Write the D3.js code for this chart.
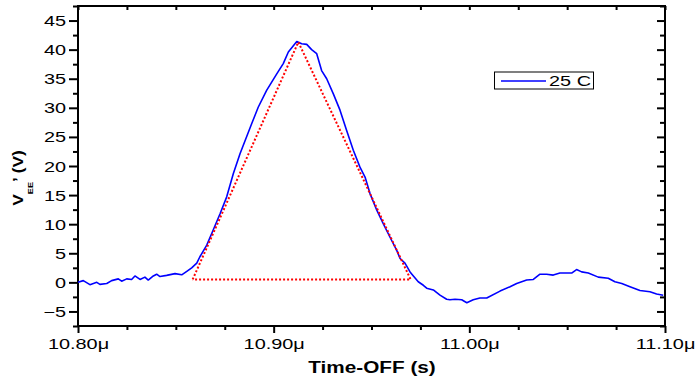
<!DOCTYPE html>
<html><head><meta charset="utf-8">
<script src="https://cdn.jsdelivr.net/npm/d3@7"></script>
<style>
body{margin:0;background:#fff;}
svg{display:block;}
text{font-family:"Liberation Sans",Arial,sans-serif;}
</style></head>
<body>
<script>
// ---- data ----
const timeUs = [10.800,10.8027,10.8061,10.8096,10.8112,10.8147,10.8172,10.8206,10.8223,10.8249,10.8274,10.8291,10.8317,10.8342,10.8359,10.8385,10.8402,10.8419,10.8453,10.8496,10.8530,10.8556,10.8581,10.8607,10.8623,10.8658,10.8691,10.8726,10.8760,10.8794,10.8828,10.8888,10.8921,10.8964,10.9015,10.9049,10.9075,10.9118,10.9143,10.9169,10.9194,10.9220,10.9245,10.9271,10.9305,10.9339,10.9373,10.9407,10.9441,10.9467,10.9492,10.9527,10.9560,10.9594,10.9629,10.9646,10.9671,10.9697,10.9714,10.9739,10.9765,10.9782,10.9816,10.9850,10.9884,10.9901,10.9927,10.9961,10.9987,11.0020,11.0054,11.0089,11.0157,11.0208,11.0242,11.0293,11.0327,11.0361,11.0395,11.0429,11.0463,11.0523,11.0548,11.0574,11.0608,11.0659,11.0710,11.0744,11.0779,11.0821,11.0872,11.0923,11.0957,11.0991];
const vee25C = [0.0,0.3,-0.4,0.0,-0.35,-0.2,0.3,0.6,0.2,0.6,0.5,1.1,0.5,0.9,0.4,1.1,1.4,1.0,1.2,1.5,1.3,1.9,2.5,3.3,4.4,6.4,9.0,11.8,14.7,18.7,22.1,27.3,30.1,33.0,35.8,37.6,39.6,41.4,41.0,40.9,40.0,39.3,36.4,35.0,32.4,29.6,26.1,22.7,19.8,18.1,15.3,12.4,10.1,7.8,5.5,4.1,3.3,1.8,1.1,0.1,-0.5,-1.0,-1.3,-2.2,-2.9,-3.0,-2.9,-3.0,-3.5,-3.0,-2.7,-2.7,-1.5,-0.75,-0.2,0.4,0.5,1.4,1.4,1.25,1.6,1.6,2.2,1.8,1.6,0.9,0.7,0.1,-0.2,-0.75,-1.4,-1.6,-2.0,-2.2];
const triangleX = [10.8586, 10.9126, 10.9700, 10.8586];
const triangleY = [0.5, 41.3, 0.5, 0.5];
const xMajorTicks = [10.80, 10.90, 11.00, 11.10];
const xMinorTicks = [10.825,10.85,10.875,10.925,10.95,10.975,11.025,11.05,11.075];
const yMajorTicks = [-5,0,5,10,15,20,25,30,35,40,45];
const yMinorTicks = [-7.5,-2.5,2.5,7.5,12.5,17.5,22.5,27.5,32.5,37.5,42.5,47.5];
const legendLabel = "25 C";
const xTitle = "Time-OFF (s)";

// ---- layout ----
const W = 697, H = 378;
const L = 78, R = 665, T = 6, B = 326;
const SX = 1.42; // horizontal text stretch
const svg = d3.select("body").append("svg").attr("width", W).attr("height", H);

const x = d3.scaleLinear().domain([10.80, 11.10]).range([L, R]);
const y = d3.scaleLinear().domain([-7.5, 47.5]).range([B, T]);

function styleAxis(g, w){
  g.select(".domain").remove();
  g.selectAll(".tick line").attr("stroke","#000").attr("stroke-width", w);
}
// left
const gl = svg.append("g").attr("transform",`translate(${L},0)`)
  .call(d3.axisLeft(y).tickValues(yMajorTicks).tickSize(9).tickPadding(3).tickFormat(d3.format("d")));
styleAxis(gl, 2);
gl.selectAll(".tick text").attr("font-size",14).attr("fill","#000")
  .attr("x", -12/SX).attr("transform",`scale(${SX},1)`).attr("dy","0.36em");
svg.append("g").attr("transform",`translate(${L},0)`)
  .call(d3.axisLeft(y).tickValues(yMinorTicks).tickSize(5).tickFormat(""))
  .call(g=>styleAxis(g,2));
// right (inward)
svg.append("g").attr("transform",`translate(${R},0)`)
  .call(d3.axisLeft(y).tickValues(yMajorTicks).tickSize(8).tickFormat(""))
  .call(g=>styleAxis(g,2));
svg.append("g").attr("transform",`translate(${R},0)`)
  .call(d3.axisLeft(y).tickValues(yMinorTicks).tickSize(5).tickFormat(""))
  .call(g=>styleAxis(g,2));
// bottom
const gb = svg.append("g").attr("transform",`translate(0,${B})`)
  .call(d3.axisBottom(x).tickValues(xMajorTicks).tickSize(7).tickPadding(5).tickFormat(d=>d3.format(".2f")(d)+"μ"));
styleAxis(gb, 2);
gb.selectAll(".tick text").attr("font-size",14).attr("fill","#000")
  .attr("transform",`scale(${SX},1)`).attr("dy","0.76em");
svg.append("g").attr("transform",`translate(0,${B})`)
  .call(d3.axisBottom(x).tickValues(xMinorTicks).tickSize(4).tickFormat(""))
  .call(g=>styleAxis(g,2));
// top (inward)
svg.append("g").attr("transform",`translate(0,${T})`)
  .call(d3.axisBottom(x).tickValues(xMajorTicks.concat(xMinorTicks)).tickSize(4).tickFormat(""))
  .call(g=>styleAxis(g,2));

// frame
svg.append("rect").attr("x",L).attr("y",T).attr("width",R-L).attr("height",B-T)
  .attr("fill","none").attr("stroke","#000").attr("stroke-width",2);

// data
const pts = timeUs.map((t,i)=>[t, vee25C[i]]);
svg.append("path").datum(pts)
  .attr("d", d3.line().x(d=>x(d[0])).y(d=>y(d[1])))
  .attr("fill","none").attr("stroke","#0000ff").attr("stroke-width",1.6).attr("stroke-linejoin","round");

const tri = triangleX.map((t,i)=>[t, triangleY[i]]);
svg.append("path").datum(tri)
  .attr("d", d3.line().x(d=>x(d[0])).y(d=>y(d[1])))
  .attr("fill","none").attr("stroke","#ff0000").attr("stroke-width",2).attr("stroke-dasharray","2,2");

// legend
const lg = svg.append("g");
lg.append("rect").attr("x",494.5).attr("y",72).attr("width",99).attr("height",17)
  .attr("fill","#fff").attr("stroke","#000").attr("stroke-width",1);
lg.append("line").attr("x1",501).attr("x2",546).attr("y1",81).attr("y2",81)
  .attr("stroke","#0000ff").attr("stroke-width",1.6);
lg.append("text").attr("transform",`translate(549,86) scale(${SX},1)`)
  .attr("font-size",14).text(legendLabel);

// x title
svg.append("text").attr("transform",`translate(372,373) scale(1.22,1)`)
  .attr("text-anchor","middle").attr("font-size",17).attr("font-weight","bold").text(xTitle);

// y title
const yt = svg.append("text").attr("transform",`translate(23,178) rotate(-90) scale(1.15,1)`)
  .attr("text-anchor","middle").attr("font-size",15).attr("font-weight","bold");
yt.append("tspan").text("V");
yt.append("tspan").attr("font-size",8).attr("dy",10).text("EE");
yt.append("tspan").attr("dy",-10).text("’ (V)");
</script>
</body></html>
